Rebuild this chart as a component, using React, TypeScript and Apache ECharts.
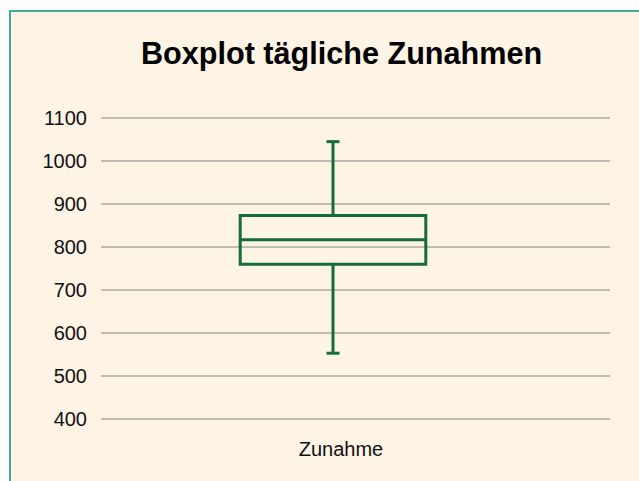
import React, { useEffect, useRef } from "react";
import * as echarts from "echarts";

const titleText = "Boxplot tägliche Zunahmen";
const categories = ["Zunahme"];
// [min, Q1, median, Q3, max]
const boxValues = [[553, 760, 817, 873, 1045]];
const yMin = 400;
const yMax = 1100;
const yInterval = 100;

const GREEN = "#156c3b";

export default function App() {
  const ref = useRef<HTMLDivElement>(null);
  useEffect(() => {
    if (!ref.current) return;
    const chart = echarts.init(ref.current, undefined, { renderer: "svg" });
    const data = boxValues.map((v, i) => [i, ...v]);
    chart.setOption({
      animation: false,
      backgroundColor: "#ffffff",
      graphic: [
        {
          type: "rect",
          z: -10,
          silent: true,
          shape: { x: 10, y: 11, width: 700, height: 520 },
          style: { fill: "#fdf4e6", stroke: "#45a898", lineWidth: 2 },
        },
      ],
      title: {
        text: titleText,
        left: 136,
        top: 32,
        textStyle: {
          fontFamily: "Liberation Sans, Arial, sans-serif",
          fontSize: 30.6,
          fontWeight: "bold",
          color: "#000",
        },
      },
      grid: [
        { left: 101, right: 29, top: 118, height: 301 },
        { left: 101, right: 74, top: 118, height: 301 },
      ],
      xAxis: [
        {
          type: "category",
          gridIndex: 0,
          data: categories,
          axisLine: { show: false },
          axisTick: { show: false },
          axisLabel: { show: false },
        },
        {
          type: "category",
          gridIndex: 1,
          data: categories,
          axisLine: { show: false },
          axisTick: { show: false },
          axisLabel: {
            margin: 20,
            fontSize: 20,
            color: "#111",
            fontFamily: "Liberation Sans, Arial, sans-serif",
            padding: [0, 0, 0, 16],
          },
        },
      ],
      yAxis: [
        {
          type: "value",
          gridIndex: 0,
          min: yMin,
          max: yMax,
          interval: yInterval,
          axisLine: { show: false },
          axisTick: { show: false },
          axisLabel: {
            margin: 14,
            fontSize: 20,
            color: "#111",
            fontFamily: "Liberation Sans, Arial, sans-serif",
            formatter: (v: number) => String(v),
          },
          splitLine: { lineStyle: { color: "#aca8a4", width: 1.6 } },
        },
        {
          type: "value",
          gridIndex: 1,
          min: yMin,
          max: yMax,
          interval: yInterval,
          show: false,
          splitLine: { show: false },
        },
      ],
      series: [
        {
          type: "custom",
          xAxisIndex: 1,
          yAxisIndex: 1,
          encode: { x: 0, y: [1, 2, 3, 4, 5] },
          data,
          renderItem: (params: any, api: any) => {
            const xi = api.value(0);
            const pMin = api.coord([xi, api.value(1)]);
            const pQ1 = api.coord([xi, api.value(2)]);
            const pMed = api.coord([xi, api.value(3)]);
            const pQ3 = api.coord([xi, api.value(4)]);
            const pMax = api.coord([xi, api.value(5)]);
            const cx = pMed[0];
            const band = api.size([1, 0])[0];
            const hw = (band * 0.4) / 2;
            const cap = 6.5;
            const st = { stroke: GREEN, lineWidth: 3, fill: "none" };
            return {
              type: "group",
              children: [
                { type: "line", shape: { x1: cx, y1: pQ3[1], x2: cx, y2: pMax[1] }, style: st },
                { type: "line", shape: { x1: cx, y1: pQ1[1], x2: cx, y2: pMin[1] }, style: st },
                { type: "line", shape: { x1: cx - cap, y1: pMax[1], x2: cx + cap, y2: pMax[1] }, style: st },
                { type: "line", shape: { x1: cx - cap, y1: pMin[1], x2: cx + cap, y2: pMin[1] }, style: st },
                {
                  type: "rect",
                  shape: { x: cx - hw, y: pQ3[1], width: hw * 2, height: pQ1[1] - pQ3[1] },
                  style: st,
                },
                { type: "line", shape: { x1: cx - hw, y1: pMed[1], x2: cx + hw, y2: pMed[1] }, style: st },
              ],
            };
          },
        },
      ],
    });
    return () => chart.dispose();
  }, []);
  return (
    <div
      ref={ref}
      style={{ position: "fixed", left: 0, top: 0, width: 639, height: 481 }}
    />
  );
}
